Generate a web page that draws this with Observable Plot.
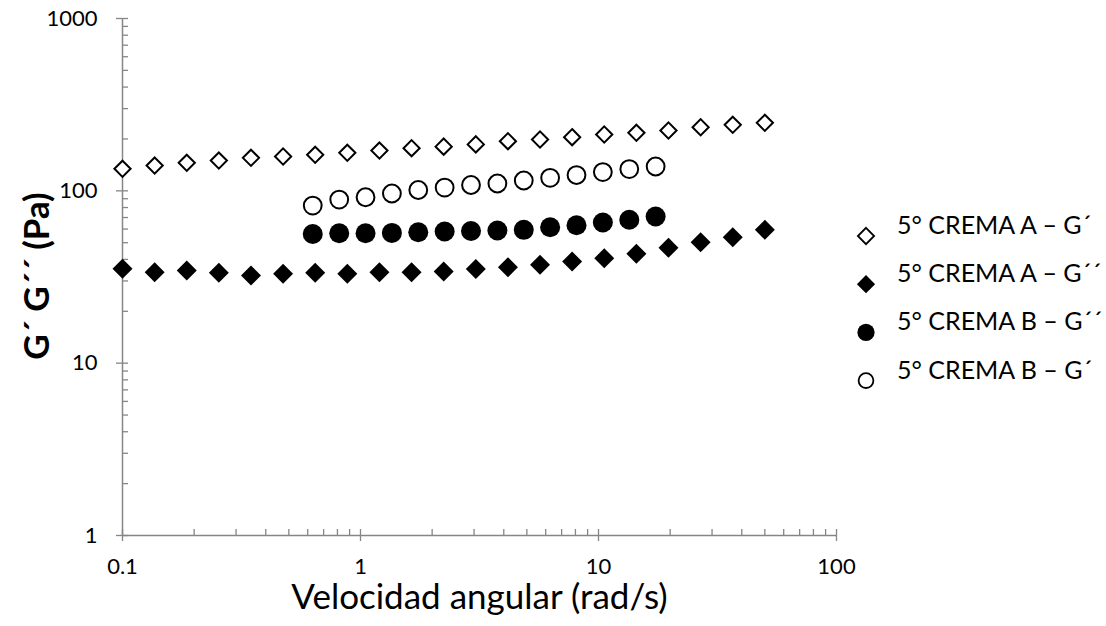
<!DOCTYPE html>
<html>
<head>
<meta charset="utf-8">
<script src="https://cdn.jsdelivr.net/npm/d3@7"></script>
<script src="https://cdn.jsdelivr.net/npm/@observablehq/plot@0.6"></script>
<style>
  html, body { margin: 0; padding: 0; background: #fff; }
  #wrap { position: relative; width: 1106px; height: 626px; overflow: hidden; font-family: Lato, "Open Sans", sans-serif; }
  #wrap > svg { display: block; }
  #legend { position: absolute; left: 0; top: 0; }
</style>
</head>
<body>
<div id="wrap"></div>
<script>
// ---- data ----
const freqA = [0.1, 0.1365, 0.1862, 0.254, 0.3466, 0.4729, 0.6451, 0.8802, 1.201, 1.639, 2.236, 3.051, 4.163, 5.68, 7.749, 10.57, 14.43, 19.68, 26.86, 36.65, 50];
const gPrimeA = [134.2, 140.2, 145.4, 149.9, 155.4, 158.2, 161.8, 166.2, 171.3, 176.7, 180.5, 186.0, 194.1, 198.5, 204.8, 212.3, 217.1, 223.9, 233.9, 241.5, 248.1];
const gDoublePrimeA = [35.26, 33.70, 34.46, 33.43, 32.24, 32.98, 33.43, 32.98, 33.70, 33.70, 34.01, 35.17, 36.03, 37.20, 38.88, 40.63, 43.10, 46.70, 50.31, 53.79, 59.37];

const freqB = [0.630, 0.814, 1.050, 1.355, 1.749, 2.257, 2.913, 3.760, 4.853, 6.263, 8.084, 10.43, 13.47, 17.38];
const gDoublePrimeB = [56.14, 56.75, 56.75, 57.0, 57.52, 58.06, 58.45, 58.84, 59.37, 61.49, 63.14, 65.46, 67.96, 70.92];
const gPrimeB = [82.16, 89.0, 91.8, 96.5, 101.1, 104.5, 108.1, 110.3, 114.8, 119.0, 123.5, 128.5, 133.8, 138.4];

const seriesNames = ["5° CREMA A – G´", "5° CREMA A – G´´", "5° CREMA B – G´´", "5° CREMA B – G´"];

const xTicks = [0.1, 1, 10, 100];
const xTickLabels = ["0.1", "1", "10", "100"];
const yTicks = [1, 10, 100, 1000];
const yTickLabels = ["1", "10", "100", "1000"];
const xMinor = [0.2, 0.3, 0.4, 0.5, 0.6, 0.7, 0.8, 0.9, 2, 3, 4, 5, 6, 7, 8, 9, 20, 30, 40, 50, 60, 70, 80, 90];
const yMinor = [2, 3, 4, 5, 6, 7, 8, 9, 20, 30, 40, 50, 60, 70, 80, 90, 200, 300, 400, 500, 600, 700, 800, 900];

const xTitle = "Velocidad angular (rad/s)";
const yTitle = "G´ G´´ (Pa)";

// ---- build tables ----
const toRows = (xs, ys) => xs.map((x, i) => ({x, y: ys[i]}));
const rowsA1 = toRows(freqA, gPrimeA);
const rowsA2 = toRows(freqA, gDoublePrimeA);
const rowsB2 = toRows(freqB, gDoublePrimeB);
const rowsB1 = toRows(freqB, gPrimeB);

const axisColor = "#868686";
const FONT = "Lato, 'Open Sans', sans-serif";

const chart = Plot.plot({
  width: 1106,
  height: 626,
  marginLeft: 122,
  marginRight: 270,
  marginTop: 18,
  marginBottom: 91,
  style: {fontFamily: FONT, fontSize: "22px", background: "white", color: "black", overflow: "visible"},
  x: {type: "log", domain: [0.1, 100], label: null},
  y: {type: "log", domain: [1, 1000], label: null},
  marks: [
    // minor ticks (inside the frame)
    Plot.axisX({ticks: xMinor, tickSize: 6, dy: -6, tickFormat: () => "", stroke: axisColor, strokeWidth: 1.3, label: null}),
    Plot.axisY({ticks: yMinor, tickSize: 6, dx: 6, tickFormat: () => "", stroke: axisColor, strokeWidth: 1.3, label: null}),
    // major ticks (crossing the axis) with labels
    Plot.axisX({ticks: xTicks, tickSize: 12, dy: -6, tickPadding: 17, tickFormat: (d) => xTickLabels[xTicks.indexOf(d)], stroke: axisColor, strokeWidth: 1.3, fill: "black", fontSize: 22, label: null}),
    Plot.axisY({ticks: yTicks, tickSize: 12, dx: 6, tickPadding: 19, tickFormat: (d) => yTickLabels[yTicks.indexOf(d)], stroke: axisColor, strokeWidth: 1.3, fill: "black", fontSize: 22, label: null}),
    // axis lines
    Plot.ruleX([0.1], {stroke: axisColor, strokeWidth: 1.5}),
    Plot.ruleY([1], {stroke: axisColor, strokeWidth: 1.5}),
    // axis titles
    Plot.text([xTitle], {frameAnchor: "bottom", textAnchor: "middle", dy: 73, fontSize: 35, fill: "black"}),
    Plot.text([yTitle], {frameAnchor: "left", textAnchor: "middle", dx: -85, dy: -1, rotate: -90, fontSize: 35, fontWeight: "bold", fill: "black"}),
    // data
    Plot.dot(rowsA1, {x: "x", y: "y", symbol: "diamond2", r: 7.3, fill: "white", stroke: "black", strokeWidth: 2}),
    Plot.dot(rowsA2, {x: "x", y: "y", symbol: "diamond2", r: 9, fill: "black", stroke: "none"}),
    Plot.dot(rowsB2, {x: "x", y: "y", symbol: "circle", r: 10, fill: "black", stroke: "none"}),
    Plot.dot(rowsB1, {x: "x", y: "y", symbol: "circle", r: 8.9, fill: "white", stroke: "black", strokeWidth: 2})
  ]
});

const wrap = document.getElementById("wrap");
wrap.appendChild(chart);

// ---- legend ----
const legendSymbols = [
  {type: d3.symbolDiamond2, size: 7.3, fill: "white", stroke: "black"},
  {type: d3.symbolDiamond2, size: 8.2, fill: "black", stroke: "none"},
  {type: d3.symbolCircle, size: 8.6, fill: "black", stroke: "none"},
  {type: d3.symbolCircle, size: 7.4, fill: "white", stroke: "black"}
];
const legend = d3.select(wrap).append("svg")
  .attr("id", "legend")
  .attr("width", 1106).attr("height", 626)
  .style("pointer-events", "none");
seriesNames.forEach((name, i) => {
  const cy = 236 + i * 48.2;
  const s = legendSymbols[i];
  legend.append("path")
    .attr("transform", `translate(866,${cy})`)
    .attr("d", d3.symbol(s.type, Math.PI * s.size * s.size)())
    .attr("fill", s.fill)
    .attr("stroke", s.stroke)
    .attr("stroke-width", s.stroke === "none" ? null : 1.8);
  legend.append("text")
    .attr("x", 897)
    .attr("y", cy - 2)
    .attr("font-family", FONT)
    .attr("font-size", 25)
    .attr("fill", "black")
    .text(name);
});
</script>
</body>
</html>
